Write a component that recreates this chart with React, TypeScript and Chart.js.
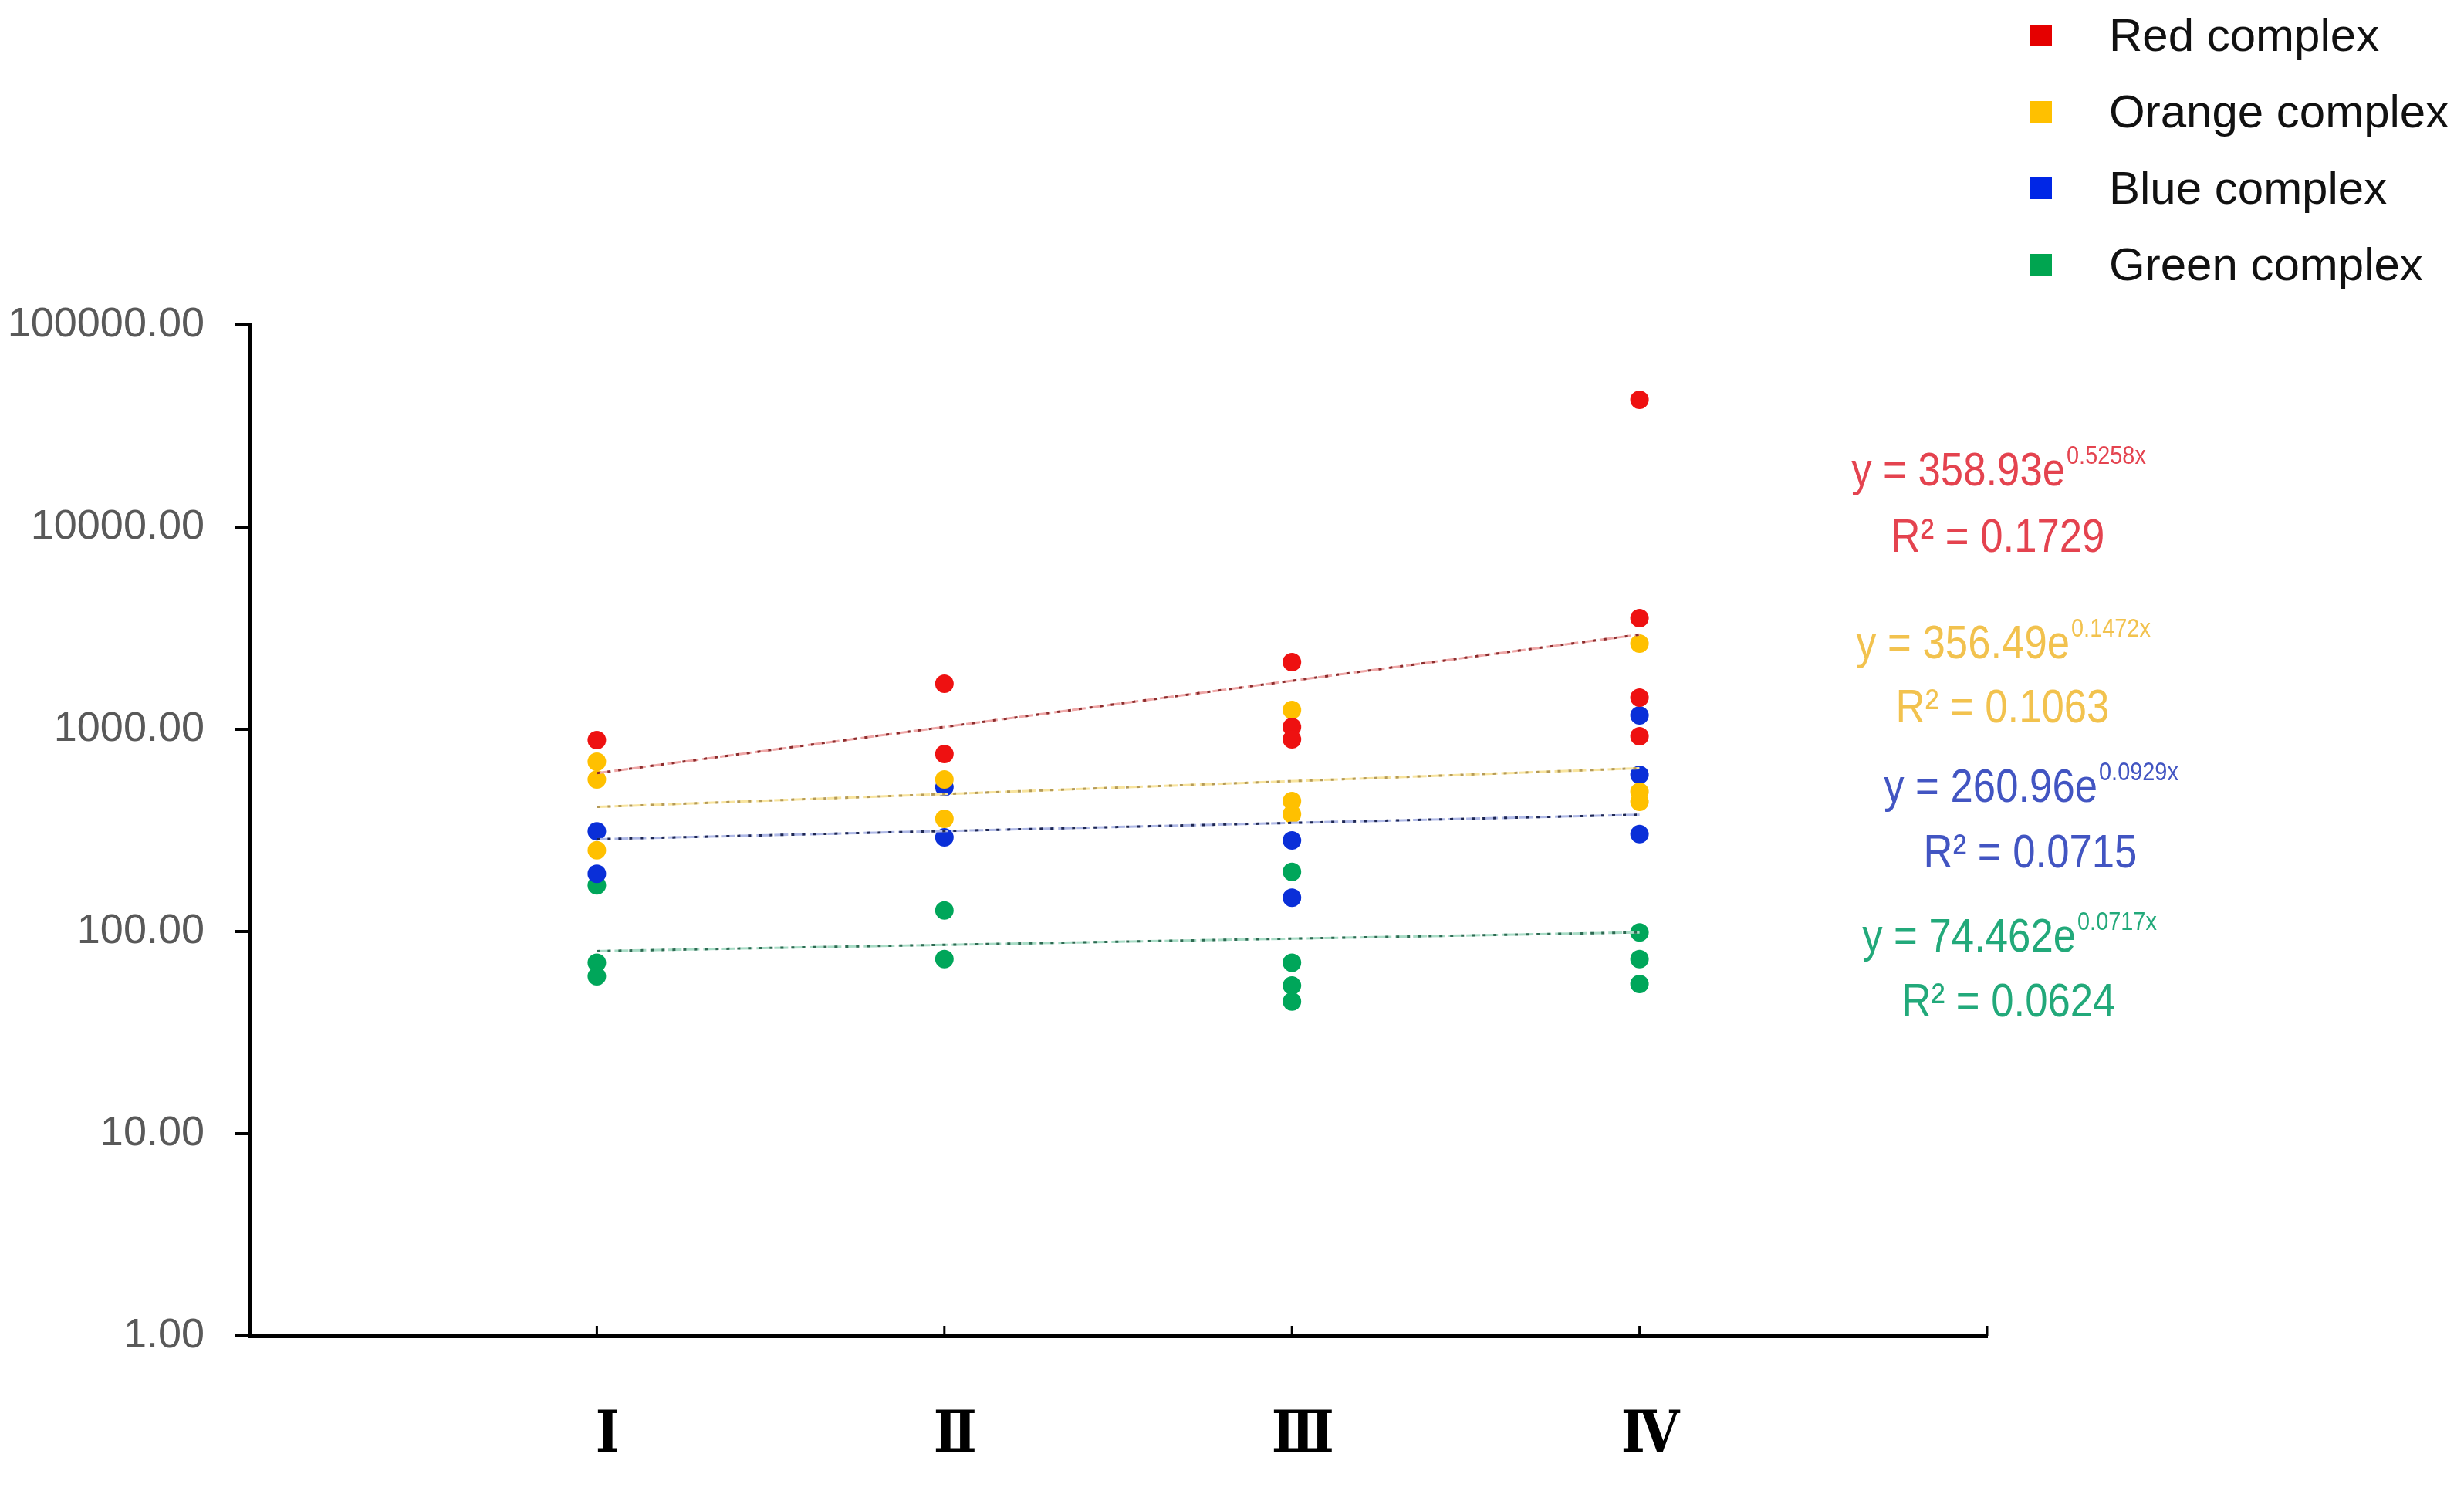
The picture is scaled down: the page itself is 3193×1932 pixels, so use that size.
import { useEffect, useRef } from 'react'
import { Chart, registerables } from 'chart.js'

Chart.register(...registerables)

const STAGES = ['Ⅰ', 'Ⅱ', 'Ⅲ', 'Ⅳ']
const Y_TICKS = [1, 10, 100, 1000, 10000, 100000]
const SERIES = ['Red complex', 'Orange complex', 'Blue complex', 'Green complex']

// values per stage (I .. IV)
const RED = [[884], [1679, 755], [2148, 1027, 892], [42640, 3545, 1433, 924]]
const ORANGE = [[691, 565, 252], [565, 361], [1245, 442, 380], [2653, 491, 438]]
const BLUE = [[313, 193], [517, 292], [282, 147], [1171, 595, 303]]
const GREEN = [[169, 70, 60], [127, 73], [197, 70, 54, 45], [99, 73, 55]]

// exponential trend lines: value at stage I and at stage IV
const RED_TREND = [607, 2940]
const ORANGE_TREND = [413, 642]
const BLUE_TREND = [286, 378]
const GREEN_TREND = [80, 99]

const EQ_COEF = ['358.93', '356.49', '260.96', '74.462']
const EQ_EXP = ['0.5258x', '0.1472x', '0.0929x', '0.0717x']
const EQ_R2 = ['0.1729', '0.1063', '0.0715', '0.0624']

const POINT_COLORS = ['#EE1111', '#FFC000', '#0A2FD8', '#00A65A']
const LEGEND_COLORS = ['#E50000', '#FFC000', '#0026E6', '#00A550']
const TEXT_COLORS = ['#E4434F', '#F2C24E', '#4255C2', '#22A97A']
const TREND_PALE = ['#EFA8A8', '#F8E49E', '#AEB8E6', '#A8DCC6']
const TREND_DARK = ['#8A2C2C', '#B49A58', '#1E2752', '#2E6A52']

// where the equations sit on the canvas: centre x, equation y, R² y
const EQ_POS = [
  [2589, 612, 698],
  [2595, 836, 919],
  [2631, 1022, 1107],
  [2603, 1216, 1300],
]

const SANS = '"Liberation Sans", Arial, sans-serif'
const SQUEEZE = 0.85

// draw horizontally condensed text (the figure uses a narrow face)
function narrowText(ctx: CanvasRenderingContext2D, text: string, x: number, y: number, size: number) {
  ctx.save()
  ctx.font = `${size}px ${SANS}`
  ctx.translate(x, y)
  ctx.scale(SQUEEZE, 1)
  ctx.textAlign = 'left'
  ctx.textBaseline = 'middle'
  ctx.fillText(text, 0, 0)
  ctx.restore()
}

function narrowWidth(ctx: CanvasRenderingContext2D, text: string, size: number) {
  ctx.save()
  ctx.font = `${size}px ${SANS}`
  const w = ctx.measureText(text).width * SQUEEZE
  ctx.restore()
  return w
}

const toPoints = (groups: number[][]) =>
  groups.flatMap((vals, i) => vals.map(v => ({ x: i + 1, y: v })))

const toTrend = (t: number[]) => [
  { x: 1, y: t[0] },
  { x: STAGES.length, y: t[1] },
]

const annotations = {
  id: 'annotations',
  afterDraw(chart: any) {
    const { ctx, chartArea } = chart
    const xScale = chart.scales.x
    ctx.save()

    // short inward ticks on the x axis
    ctx.strokeStyle = '#000'
    ctx.lineWidth = 3
    for (let v = 1; v <= 5; v++) {
      const px = xScale.getPixelForValue(v)
      ctx.beginPath()
      ctx.moveTo(px, chartArea.bottom)
      ctx.lineTo(px, chartArea.bottom - 13)
      ctx.stroke()
    }

    // trend equations
    EQ_COEF.forEach((coef, i) => {
      const [cx, ey, ry] = EQ_POS[i]
      const main = `y = ${coef}e`
      ctx.fillStyle = TEXT_COLORS[i]
      const wMain = narrowWidth(ctx, main, 62)
      const wSup = narrowWidth(ctx, EQ_EXP[i], 34)
      const start = cx - (wMain + wSup) / 2
      narrowText(ctx, main, start, ey, 62)
      narrowText(ctx, EQ_EXP[i], start + wMain + 2, ey - 20, 34)

      const r2 = `R² = ${EQ_R2[i]}`
      narrowText(ctx, r2, cx - narrowWidth(ctx, r2, 62) / 2, ry, 62)
    })
    ctx.restore()
  },
}

export default function App() {
  const canvasRef = useRef<HTMLCanvasElement>(null)
  const chartRef = useRef<Chart | null>(null)

  useEffect(() => {
    document.body.style.margin = '0'
    if (!canvasRef.current) return
    if (chartRef.current) chartRef.current.destroy()

    const groups = [RED, ORANGE, BLUE, GREEN]
    const trends = [RED_TREND, ORANGE_TREND, BLUE_TREND, GREEN_TREND]

    const trendSets: any[] = []
    trends.forEach((t, i) => {
      trendSets.push({
        label: SERIES[i] + ' trend dots',
        data: toTrend(t),
        showLine: true,
        borderColor: TREND_DARK[i],
        borderWidth: 3,
        borderDash: [4, 10],
        pointRadius: 0,
        order: 0,
      })
      trendSets.push({
        label: SERIES[i] + ' trend',
        data: toTrend(t),
        showLine: true,
        borderColor: TREND_PALE[i],
        borderWidth: 3,
        borderDash: [18, 5],
        pointRadius: 0,
        order: 1,
      })
    })

    const pointSets = groups.map((g, i) => ({
      label: SERIES[i],
      data: toPoints(g),
      backgroundColor: POINT_COLORS[i],
      borderWidth: 0,
      pointRadius: 12,
      pointHoverRadius: 12,
      order: 2 + i,
    }))

    chartRef.current = new Chart(canvasRef.current, {
      type: 'scatter',
      data: { datasets: [...trendSets, ...pointSets] },
      options: {
        animation: false,
        responsive: false,
        layout: { padding: { top: 421, right: 618, left: 0, bottom: 0 } },
        plugins: {
          legend: { display: false },
          tooltip: { enabled: false },
        },
        scales: {
          x: {
            type: 'linear',
            min: 0,
            max: 5,
            afterBuildTicks: (s: any) => {
              s.ticks = STAGES.map((_, i) => ({ value: i + 1 }))
            },
            afterFit: (s: any) => {
              s.height = 201
            },
            grid: { display: false, drawTicks: false },
            border: { display: true, color: '#000', width: 5 },
            ticks: {
              autoSkip: false,
              maxRotation: 0,
              padding: 86,
              labelOffset: 14,
              color: '#000',
              font: { family: '"DejaVu Serif Condensed", "DejaVu Serif", serif', size: 74, weight: 'bold' },
              callback: (v: any) => STAGES[Number(v) - 1] ?? '',
            },
          },
          y: {
            type: 'logarithmic',
            min: 1,
            max: 100000,
            afterBuildTicks: (s: any) => {
              s.ticks = Y_TICKS.map(v => ({ value: v, major: true }))
            },
            afterFit: (s: any) => {
              s.width = 323
            },
            grid: { drawOnChartArea: false, drawTicks: true, tickLength: 18, lineWidth: 4, color: '#000' },
            border: { display: true, color: '#000', width: 5 },
            ticks: {
              autoSkip: false,
              padding: 40,
              color: '#595959',
              font: { family: SANS, size: 54 },
              callback: (v: any) => Number(v).toFixed(2),
            },
          },
        },
      },
      plugins: [annotations],
    } as any)

    return () => {
      if (chartRef.current) {
        chartRef.current.destroy()
        chartRef.current = null
      }
    }
  }, [])

  return (
    <div style={{ position: 'relative', width: 3193, height: 1932, background: '#fff' }}>
      <canvas ref={canvasRef} width={3193} height={1932} style={{ width: 3193, height: 1932 }} />
      <div style={{ position: 'absolute', left: 2631, top: -4, fontFamily: SANS }}>
        {SERIES.map((name, i) => (
          <div key={name} style={{ display: 'flex', alignItems: 'center', height: 99 }}>
            <div style={{ width: 28, height: 28, background: LEGEND_COLORS[i], marginRight: 74 }} />
            <span style={{ fontSize: 60, color: '#111', whiteSpace: 'nowrap' }}>{name}</span>
          </div>
        ))}
      </div>
    </div>
  )
}
